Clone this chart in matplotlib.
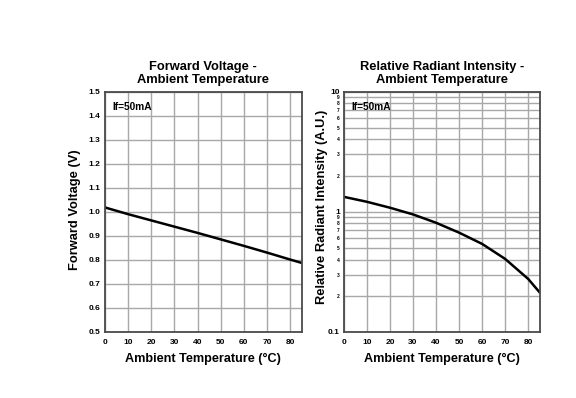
import matplotlib
matplotlib.use('Agg')
import matplotlib.pyplot as plt
from matplotlib.ticker import FixedLocator, FuncFormatter
import numpy as np

plt.rcParams['font.family'] = ['Liberation Sans', 'DejaVu Sans']
plt.rcParams['font.weight'] = 'bold'

# forward voltage vs ambient temperature
temp = [0, 10, 20, 30, 40, 50, 60, 70, 80, 85]
vf = [1.018, 0.990, 0.964, 0.938, 0.912, 0.885, 0.858, 0.830, 0.801, 0.787]

# relative radiant intensity vs ambient temperature
ie = [1.33, 1.21, 1.08, 0.95, 0.81, 0.67, 0.54, 0.405, 0.276, 0.213]

condition = "If=50mA"
xlabel = "Ambient Temperature (\u00b0C)"

fig = plt.figure(figsize=(5.76, 3.98), dpi=100)
ax1 = fig.add_axes([0.182, 0.166, 0.342, 0.604])
ax2 = fig.add_axes([0.597, 0.166, 0.340, 0.604])

grid_col = '#a8a8a8'
spine_col = '#4a4a4a'

def style(ax):
    for s in ax.spines.values():
        s.set_color(spine_col)
        s.set_linewidth(1.3)
    ax.tick_params(which='both', length=0, labelsize=6, pad=3)
    ax.tick_params(axis='x', pad=5)
    ax.set_xlim(0, 85)
    ax.set_xticks(range(0, 90, 10))
    ax.set_xlabel(xlabel, fontsize=9.1, fontweight='bold')
    ax.xaxis.set_label_coords(0.5, -0.088)
    ax.text(0.04, 0.955, condition, transform=ax.transAxes, fontsize=7.3,
            fontweight='bold', va='top', ha='left')

# left chart
ax1.plot(temp, vf, color='black', lw=1.8)
ax1.set_ylim(0.5, 1.5)
ax1.set_yticks(np.arange(0.5, 1.51, 0.1))
ax1.yaxis.set_major_formatter(FuncFormatter(lambda v, p: f"{v:.1f}"))
ax1.grid(True, color=grid_col, lw=1)
style(ax1)
ax1.set_ylabel("Forward Voltage (V)", fontsize=9.3, fontweight='bold')
ax1.yaxis.set_label_coords(-0.122, 0.51)
ax1.set_title("Forward Voltage -\nAmbient Temperature", fontsize=9.3,
              fontweight='bold', pad=6, linespacing=1.1)

# right chart
ax2.plot(temp, ie, color='black', lw=1.8)
ax2.set_yscale('log')
ax2.set_ylim(0.1, 10)
ax2.yaxis.set_major_locator(FixedLocator([0.1, 1, 10]))
ax2.yaxis.set_major_formatter(FuncFormatter(lambda v, p: f"{v:g}"))
minors = [m * d for d in (0.1, 1) for m in range(2, 10)]
ax2.yaxis.set_minor_locator(FixedLocator(minors))
ax2.yaxis.set_minor_formatter(FuncFormatter(lambda v, p: str(int(round(v / 10 ** np.floor(np.log10(v) + 1e-9))))))
style(ax2)
ax2.tick_params(axis='y', which='minor', labelsize=3.5, pad=3)
ax2.grid(True, which='both', color=grid_col, lw=1)
ax2.set_ylabel("Relative Radiant Intensity (A.U.)", fontsize=9.3, fontweight='bold')
ax2.yaxis.set_label_coords(-0.082, 0.52)
ax2.set_title("Relative Radiant Intensity -\nAmbient Temperature", fontsize=9.3,
              fontweight='bold', pad=6, linespacing=1.1)

fig.savefig("out.png", dpi=100)
